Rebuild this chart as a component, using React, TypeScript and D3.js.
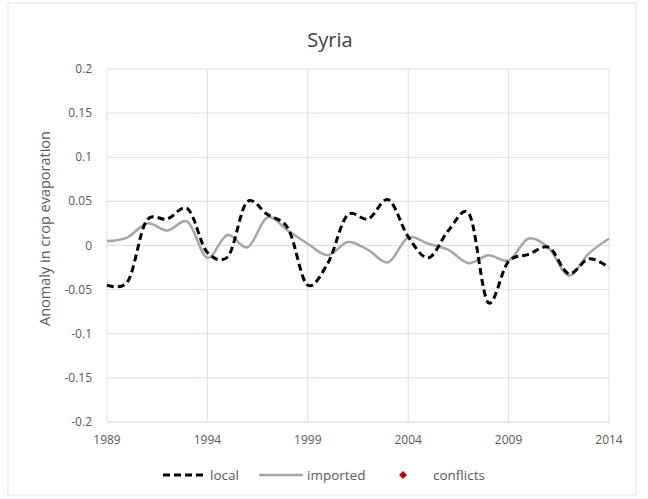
import React from "react";
import * as d3 from "d3";

const years = d3.range(1989, 2015);
const local = [-0.045, -0.042, 0.029, 0.03, 0.042, -0.008, -0.013, 0.05, 0.035, 0.02, -0.045, -0.02, 0.035, 0.03, 0.052, 0.01, -0.014, 0.017, 0.037, -0.065, -0.018, -0.01, -0.002, -0.032, -0.015, -0.025];
const imported = [0.005, 0.009, 0.025, 0.017, 0.027, -0.014, 0.012, -0.002, 0.032, 0.017, 0.002, -0.011, 0.004, -0.005, -0.019, 0.009, 0.002, -0.005, -0.02, -0.011, -0.017, 0.008, -0.003, -0.034, -0.009, 0.008];
const yTicks = [0.2, 0.15, 0.1, 0.05, 0, -0.05, -0.1, -0.15, -0.2];
const xTicks = [1989, 1994, 1999, 2004, 2009, 2014];

const W = 648, H = 499;
const left = 107, right = 609, top = 69, bottom = 422;
const font = "'Open Sans', 'Noto Sans', sans-serif";

export default function App() {
  const x = d3.scaleLinear().domain([1989, 2014]).range([left, right]);
  const y = d3.scaleLinear().domain([-0.2, 0.2]).range([bottom, top]);
  const line = d3
    .line<number>()
    .x((_, i) => x(years[i]))
    .y((d) => y(d))
    .curve(d3.curveCatmullRom.alpha(0.2));
  const fmt = (v: number) => (v === 0 ? "0" : String(v));
  return (
    <svg width={W} height={H} style={{ position: "absolute", left: 0, top: 0, background: "#fff" }} fontFamily={font}>
      <rect x={8} y={3} width={628} height={492} fill="#fff" stroke="#e6e1e1" />
      <text x={330} y={47} textAnchor="middle" fontSize={20} fill="#404040">Syria</text>
      {yTicks.map((t) => (
        <g key={t}>
          <line x1={left} x2={right} y1={y(t)} y2={y(t)} stroke={t === -0.2 ? "#cfcaca" : "#e3dcdc"} strokeWidth={1} />
          <text x={92} y={y(t) + 4} textAnchor="end" fontSize={12} fill="#595959">{fmt(t)}</text>
        </g>
      ))}
      {xTicks.map((t) => (
        <g key={t}>
          <line x1={x(t)} x2={x(t)} y1={top} y2={bottom} stroke="#e3dcdc" strokeWidth={1} />
          <text x={x(t)} y={444} textAnchor="middle" fontSize={12} fill="#595959">{t}</text>
        </g>
      ))}
      <text transform={`translate(50,${(top + bottom) / 2 - 17}) rotate(-90)`} textAnchor="middle" fontSize={14.5} fill="#595959">
        Anomaly in crop evaporation
      </text>
      <path d={line(imported) || ""} fill="none" stroke="#a6a6a6" strokeWidth={2.5} />
      <path d={line(local) || ""} fill="none" stroke="#000" strokeWidth={3} strokeDasharray="7,4" />
      <g fontSize={13.5} fill="#595959">
        <line x1={163} x2={206} y1={475} y2={475} stroke="#000" strokeWidth={3} strokeDasharray="7,4" />
        <text x={210} y={480}>local</text>
        <line x1={259} x2={303} y1={475} y2={475} stroke="#a6a6a6" strokeWidth={2.5} />
        <text x={307} y={480}>imported</text>
        <path d={d3.symbol(d3.symbolDiamond2, 40)() || ""} transform="translate(403,475)" fill="#c00000" />
        <text x={433} y={480}>conflicts</text>
      </g>
    </svg>
  );
}
